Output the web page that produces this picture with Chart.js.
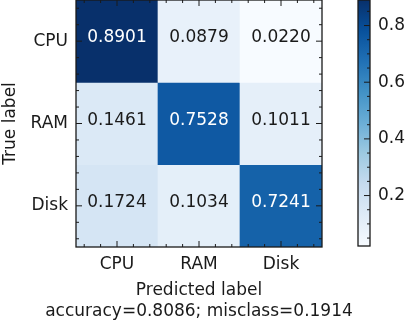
<!DOCTYPE html>
<html>
<head>
<meta charset="utf-8">
<script src="https://cdn.jsdelivr.net/npm/chart.js@4.4.0/dist/chart.umd.min.js"></script>
<style>
html, body { margin: 0; padding: 0; background: #fff; }
#wrap { position: relative; width: 408px; height: 320px; overflow: hidden; }
#main { position: absolute; left: 0; top: 0; }
#bar { position: absolute; left: 340px; top: 0; }
</style>
</head>
<body>
<div id="wrap">
<canvas id="main" width="408" height="320" style="width:408px;height:320px"></canvas>
<canvas id="bar" width="68" height="320" style="width:68px;height:320px"></canvas>
</div>
<script>
// data
var predLabels = ['CPU', 'RAM', 'Disk'];
var trueLabels = ['CPU', 'RAM', 'Disk'];
var cpuRow = [0.8901, 0.0879, 0.0220];
var ramRow = [0.1461, 0.7528, 0.1011];
var diskRow = [0.1724, 0.1034, 0.7241];
var matrix = [cpuRow, ramRow, diskRow];
var barTicks = [0.2, 0.4, 0.6, 0.8];
var accuracy = 0.8086;
var misclass = 0.1914;

var FONT = 'DejaVu Sans';
var INK = '#1a1a1a';

var all = [].concat(cpuRow, ramRow, diskRow);
var vmin = Math.min.apply(null, all);
var vmax = Math.max.apply(null, all);

// matplotlib Blues
var blues = ['#f7fbff', '#deebf7', '#c6dbef', '#9ecae1', '#6baed6', '#4292c6', '#2171b5', '#08519c', '#08306b'];

function hexToRgb(h) {
    return [parseInt(h.substr(1, 2), 16), parseInt(h.substr(3, 2), 16), parseInt(h.substr(5, 2), 16)];
}

function bluesColor(v) {
    var t = (v - vmin) / (vmax - vmin);
    t = Math.max(0, Math.min(1, t)) * (blues.length - 1);
    var i = Math.min(Math.floor(t), blues.length - 2);
    var f = t - i;
    var a = hexToRgb(blues[i]), b = hexToRgb(blues[i + 1]);
    var c = a.map((x, k) => Math.round(x + (b[k] - x) * f));
    return 'rgb(' + c.join(',') + ')';
}

function noPad(s) {
    s.paddingTop = 0; s.paddingBottom = 0;
    s.paddingLeft = 0; s.paddingRight = 0;
}

// draws the frame and inward ticks on all four sides
var framePlugin = {
    id: 'frame',
    afterDraw(chart) {
        var ctx = chart.ctx;
        var a = chart.chartArea;
        var xs = chart.scales.x, ys = chart.scales.y;
        ctx.save();
        ctx.strokeStyle = INK;
        ctx.lineWidth = 1.3;
        ctx.strokeRect(a.left, a.top, a.right - a.left, a.bottom - a.top);
        ctx.lineWidth = 1;
        ctx.beginPath();
        for (var k = -2; k <= 12; k++) {
            var len = (k % 5 === 0) ? 6 : 3;
            var px = xs.getPixelForValue(k / 5);
            ctx.moveTo(px, a.bottom); ctx.lineTo(px, a.bottom - len);
            ctx.moveTo(px, a.top); ctx.lineTo(px, a.top + len);
            var py = ys.getPixelForValue(k / 5);
            ctx.moveTo(a.left, py); ctx.lineTo(a.left + len, py);
            ctx.moveTo(a.right, py); ctx.lineTo(a.right - len, py);
        }
        ctx.stroke();

        // x axis title, two lines, centred under the plot
        var cx = (a.left + a.right) / 2;
        ctx.fillStyle = INK;
        ctx.font = '17px "' + FONT + '"';
        ctx.textAlign = 'center';
        ctx.textBaseline = 'alphabetic';
        ctx.fillText('Predicted label', cx, 295);
        ctx.fillText('accuracy=' + accuracy.toFixed(4) + '; misclass=' + misclass.toFixed(4), cx, 316);
        ctx.restore();
    }
};

// value text in each cell, baseline on the cell centre
var cellText = {
    id: 'cellText',
    afterDatasetsDraw(chart) {
        var ctx = chart.ctx;
        ctx.save();
        ctx.font = '17px "' + FONT + '"';
        ctx.textAlign = 'center';
        ctx.textBaseline = 'alphabetic';
        chart.data.datasets.forEach((ds, r) => {
            chart.getDatasetMeta(r).data.forEach((el, c) => {
                var p = el.getProps(['x', 'y', 'base'], true);
                var v = ds.values[c];
                ctx.fillStyle = v > vmax / 2 ? '#fff' : INK;
                ctx.fillText(v.toFixed(4), p.x, (p.y + p.base) / 2 + 1);
            });
        });
        ctx.restore();
    }
};

var datasets = matrix.map((row, r) => ({
    data: row.map(() => [r - 0.5, r + 0.5]),
    values: row,
    backgroundColor: row.map(bluesColor),
    borderWidth: 0,
    borderSkipped: false,
    grouped: false,
    barPercentage: 1,
    categoryPercentage: 1
}));

new Chart(document.getElementById('main'), {
    type: 'bar',
    data: { labels: predLabels, datasets: datasets },
    options: {
        responsive: false,
        animation: false,
        layout: { padding: { left: 0, right: 86, top: 0, bottom: 0 } },
        plugins: { legend: { display: false }, tooltip: { enabled: false } },
        scales: {
            x: {
                type: 'category',
                offset: true,
                grid: { display: false, drawTicks: false },
                border: { display: false },
                ticks: { color: INK, font: { family: FONT, size: 17 }, padding: 7, maxRotation: 0 },
                afterFit: s => { s.height = 73; noPad(s); }
            },
            y: {
                type: 'linear',
                min: -0.5,
                max: 2.5,
                reverse: true,
                afterBuildTicks: s => { s.ticks = trueLabels.map((_, i) => ({ value: i })); },
                grid: { display: false, drawTicks: false },
                border: { display: false },
                ticks: { color: INK, font: { family: FONT, size: 17 }, padding: 8, callback: v => trueLabels[v] },
                title: { display: true, text: 'True label', color: INK, font: { family: FONT, size: 17 }, padding: 0 },
                afterFit: s => { s.width = 76; noPad(s); }
            }
        }
    },
    plugins: [cellText, framePlugin]
});

// colour bar
var barFrame = {
    id: 'barFrame',
    afterDraw(chart) {
        var ctx = chart.ctx;
        var a = chart.chartArea;
        var ys = chart.scales.y;
        ctx.save();
        ctx.strokeStyle = INK;
        ctx.lineWidth = 1.3;
        ctx.strokeRect(a.left, a.top, a.right - a.left, a.bottom - a.top);
        ctx.lineWidth = 1;
        ctx.beginPath();
        for (var k = 1; k <= 17; k++) {
            var v = k / 20;
            if (v < vmin || v > vmax) continue;
            var len = (k % 4 === 0) ? 6 : 3;
            var py = ys.getPixelForValue(v);
            ctx.moveTo(a.right, py); ctx.lineTo(a.right - len, py);
        }
        ctx.stroke();
        ctx.restore();
    }
};

new Chart(document.getElementById('bar'), {
    type: 'bar',
    data: {
        labels: [''],
        datasets: [{
            data: [[vmin, vmax]],
            borderWidth: 0,
            borderSkipped: false,
            barPercentage: 1,
            categoryPercentage: 1,
            backgroundColor: function (c) {
                var ch = c.chart;
                if (!ch.chartArea) return blues[4];
                var ys = ch.scales.y;
                var y0 = ys.getPixelForValue(vmin), y1 = ys.getPixelForValue(vmax);
                var g = ch.ctx.createLinearGradient(0, y0, 0, y1);
                blues.forEach((col, i) => g.addColorStop(i / (blues.length - 1), col));
                return g;
            }
        }]
    },
    options: {
        responsive: false,
        animation: false,
        layout: { padding: { left: 18, right: 0, top: 0, bottom: 74 } },
        plugins: { legend: { display: false }, tooltip: { enabled: false } },
        scales: {
            x: { display: false, offset: true },
            y: {
                position: 'right',
                min: vmin,
                max: vmax,
                afterBuildTicks: s => { s.ticks = barTicks.map(v => ({ value: v })); },
                grid: { display: false, drawTicks: false },
                border: { display: false },
                ticks: { color: INK, font: { family: FONT, size: 17 }, padding: 8, callback: v => v.toFixed(1) },
                afterFit: s => { s.width = 38; noPad(s); }
            }
        }
    },
    plugins: [barFrame]
});
</script>
</body>
</html>
